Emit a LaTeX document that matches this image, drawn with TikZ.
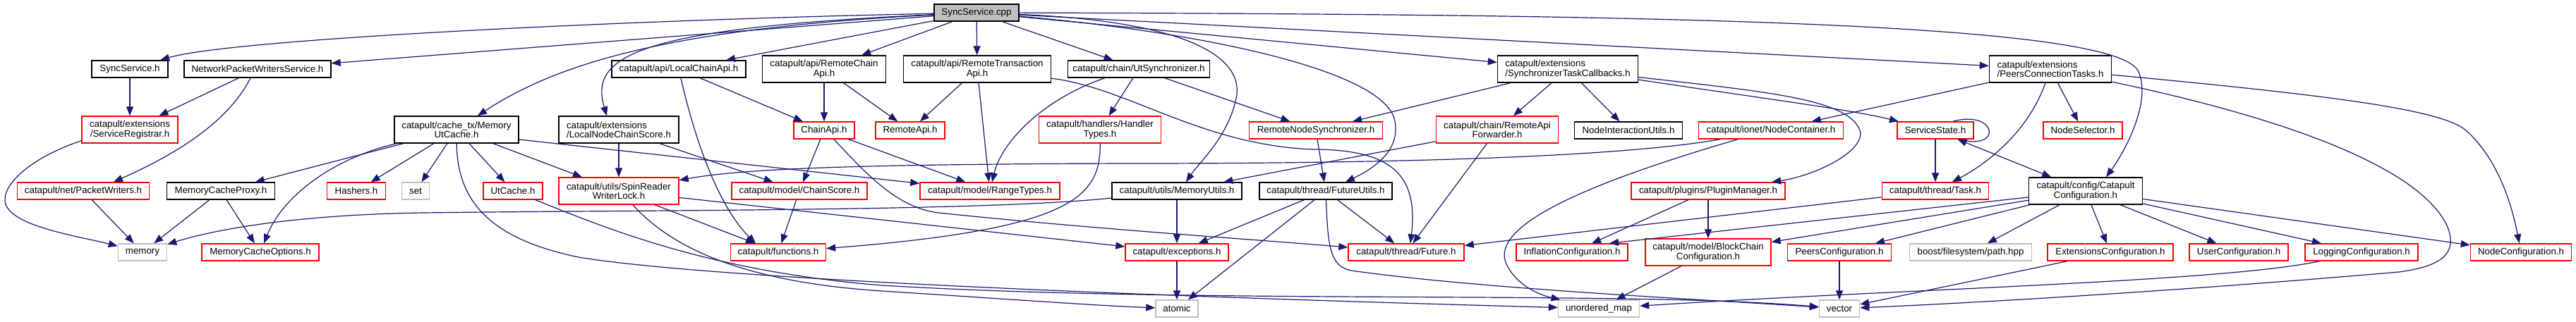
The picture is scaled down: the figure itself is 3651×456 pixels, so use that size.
\documentclass[tikz,border=0pt]{standalone}
\usepackage{fontspec}
\setmainfont{Liberation Sans}
\usetikzlibrary{arrows.meta}
\definecolor{edgeblue}{HTML}{191970}
\definecolor{greyb}{HTML}{BFBFBF}
\definecolor{boxred}{HTML}{FF0000}
\tikzset{
  nd/.style={rectangle, draw, fill=white, inner sep=0pt, line width=1.4pt,
    font=\fontsize{13.3pt}{12.3pt}\selectfont, align=center, minimum height=24pt},
  blk/.style={nd, draw=black},
  rd/.style={nd, draw=boxred},
  gy/.style={nd, draw=greyb},
  two/.style={minimum height=38pt},
  e/.style={draw=edgeblue, line width=1.2pt, -{Triangle[length=13pt,width=10pt]}},
  eboth/.style={draw=edgeblue, line width=1.2pt, {Triangle[length=13pt,width=10pt]}-{Triangle[length=13pt,width=10pt]}},
  eplain/.style={draw=edgeblue, line width=1.2pt}
}
\begin{document}
\begin{tikzpicture}[x=1pt,y=-1pt]
\path[fill=white, use as bounding box] (0,0) rectangle (3651,456);

% row 0
\node[blk, fill=greyb, minimum width=120pt] (sc) at (1384,18) {SyncService.cpp};
% row 1
\node[blk, minimum width=108pt] (ssh) at (184,98) {SyncService.h};
\node[blk, minimum width=208pt] (npw) at (365,98) {NetworkPacketWritersService.h};
\node[blk, minimum width=190pt] (lca) at (962,98) {catapult/api/LocalChainApi.h};
\node[blk, two, minimum width=175pt] (rca) at (1168,98) {catapult/api/RemoteChain\\Api.h};
\node[blk, two, minimum width=209pt] (rta) at (1385,98) {catapult/api/RemoteTransaction\\Api.h};
\node[blk, minimum width=201pt] (uts) at (1614,98) {catapult/chain/UtSynchronizer.h};
\node[blk, two, align=left, minimum width=199pt] (stc) at (2222,98) {catapult/extensions\\/SynchronizerTaskCallbacks.h};
\node[blk, two, align=left, minimum width=173pt] (pct) at (2906,98) {catapult/extensions\\/PeersConnectionTasks.h};
% row 2
\node[rd, two, minimum width=136pt] (sreg) at (184,184) {catapult/extensions\\/ServiceRegistrar.h};
\node[blk, two, minimum width=176pt] (mutc) at (647,184) {catapult/cache\_tx/Memory\\UtCache.h};
\node[blk, two, align=left, minimum width=170pt] (lncs) at (877,184) {catapult/extensions\\/LocalNodeChainScore.h};
\node[rd, minimum width=86pt] (capi) at (1168,185) {ChainApi.h};
\node[rd, minimum width=98pt] (rapi) at (1290,185) {RemoteApi.h};
\node[rd, two, minimum width=173pt] (ht) at (1559,184) {catapult/handlers/Handler\\Types.h};
\node[rd, minimum width=189pt] (rns) at (1865,185) {RemoteNodeSynchronizer.h};
\node[rd, two, minimum width=173pt] (raf) at (2122,184) {catapult/chain/RemoteApi\\Forwarder.h};
\node[blk, minimum width=153pt] (niu) at (2308,185) {NodeInteractionUtils.h};
\node[rd, minimum width=205pt] (nc) at (2510,185) {catapult/ionet/NodeContainer.h};
\node[rd, minimum width=108pt] (ss) at (2743,185) {ServiceState.h};
\node[rd, minimum width=112pt] (ns) at (2952,185) {NodeSelector.h};
% row 3
\node[rd, minimum width=187pt] (pw) at (118,271) {catapult/net/PacketWriters.h};
\node[blk, minimum width=153pt] (mcp) at (313,271) {MemoryCacheProxy.h};
\node[rd, minimum width=83pt] (hash) at (505,271) {Hashers.h};
\node[gy, minimum width=39pt] (set) at (589,271) {set};
\node[rd, minimum width=84pt] (utc) at (727,271) {UtCache.h};
\node[rd, two, minimum width=170pt] (srwl) at (877,271) {catapult/utils/SpinReader\\WriterLock.h};
\node[rd, minimum width=192pt] (cs) at (1133,271) {catapult/model/ChainScore.h};
\node[rd, minimum width=198pt] (rt) at (1403,271) {catapult/model/RangeTypes.h};
\node[blk, minimum width=184pt] (mu) at (1668,271) {catapult/utils/MemoryUtils.h};
\node[blk, minimum width=188pt] (fu) at (1879,271) {catapult/thread/FutureUtils.h};
\node[rd, minimum width=218pt] (pm) at (2421,271) {catapult/plugins/PluginManager.h};
\node[rd, minimum width=151pt] (task) at (2743,271) {catapult/thread/Task.h};
\node[blk, two, minimum width=161pt] (cc) at (2956,271) {catapult/config/Catapult\\Configuration.h};
% row 4
\node[gy, minimum width=69pt] (mem) at (202,358) {memory};
\node[rd, minimum width=166pt] (mco) at (369,358) {MemoryCacheOptions.h};
\node[rd, minimum width=135pt] (fn) at (1103,358) {catapult/functions.h};
\node[rd, minimum width=146pt] (exc) at (1668,358) {catapult/exceptions.h};
\node[rd, minimum width=164pt] (fut) at (1993,358) {catapult/thread/Future.h};
\node[rd, minimum width=158pt] (infl) at (2228,358) {InflationConfiguration.h};
\node[rd, two, minimum width=178pt] (bcc) at (2421,358) {catapult/model/BlockChain\\Configuration.h};
\node[rd, minimum width=147pt] (peers) at (2607,358) {PeersConfiguration.h};
\node[gy, minimum width=173pt] (bfs) at (2793,358) {boost/filesystem/path.hpp};
\node[rd, minimum width=178pt] (ext) at (2991,358) {ExtensionsConfiguration.h};
\node[rd, minimum width=140pt] (user) at (3173,358) {UserConfiguration.h};
\node[rd, minimum width=160pt] (log) at (3347,358) {LoggingConfiguration.h};
\node[rd, minimum width=143pt] (nodec) at (3573,358) {NodeConfiguration.h};
% row 5
\node[gy, minimum width=60pt] (atomic) at (1668,438) {atomic};
\node[gy, minimum width=115pt] (umap) at (2266,438) {unordered\_map};
\node[gy, minimum width=57pt] (vec) at (2607,438) {vector};

% edges from SyncService.cpp
\draw[e] (sc) .. controls (900,28) and (330,55) .. (ssh);
\draw[e] (sc) -- (npw);
\draw[e] (sc) .. controls (950,40) and (790,90) .. (mutc);
\draw[e] (sc) .. controls (900,40) and (835,80) .. ([xshift=-17pt]lncs.north);
\draw[e] (sc) -- (lca);
\draw[e] (sc) -- (rca);
\draw[e] (sc) -- (rta);
\draw[e] (sc) -- (uts);
\draw[e] (sc) -- (stc);
\draw[e] (sc) -- (pct);
\draw[e] (sc) .. controls (2300,20) and (2990,30) .. (3030,100) .. controls (3050,140) and (3015,210) .. ([xshift=29pt]cc.north);
\draw[e] (sc) .. controls (1680,30) and (1765,80) .. (1752,140) .. controls (1740,195) and (1700,230) .. ([xshift=13pt]mu.north);
\draw[e] (sc) .. controls (1700,45) and (1965,100) .. (1977,172) .. controls (1985,215) and (1945,240) .. ([xshift=28pt]fu.north);

% left part
\draw[e] (ssh) -- (sreg);
\draw[e] (npw) -- (sreg);
\draw[e] ([xshift=-10pt]npw.south) .. controls (320,180) and (235,225) .. ([xshift=43pt]pw.north);
\draw[e] ([yshift=4pt]sreg.south west) .. controls (40,225) and (0,265) .. (8,290) .. controls (20,322) and (110,335) .. (mem);
\draw[e] (pw) -- (mem);
\draw[e] (mcp) -- (mem);
\draw[e] (mcp) -- (mco);
\draw[e] (mutc) -- (mcp);
\draw[e] ([xshift=-85pt]mutc.south) .. controls (470,225) and (400,280) .. (mco);
\draw[e] (mutc) -- (hash);
\draw[e] (mutc) -- (set);
\draw[e] (mutc) -- (utc);
\draw[e] (mutc) -- (srwl);
\draw[e] ([yshift=-14pt]mutc.east) -- ([yshift=-2pt]rt.north west);
\draw[e] (mutc) .. controls (648,290) and (700,340) .. (820,365) .. controls (1000,395) and (1600,420) .. (umap);
\draw[e] (utc) .. controls (850,320) and (1000,385) .. (1250,405) .. controls (1700,432) and (2300,412) .. (vec);
\draw[e] (lncs) -- (srwl);
\draw[e] (lncs) -- (cs);

% middle part
\draw[e] (lca) -- (capi);
\draw[e] (lca) .. controls (990,220) and (1025,300) .. ([xshift=-32pt]fn.north);
\draw[e] (rca) -- (capi);
\draw[e] (rca) -- (rapi);
\draw[e] (rta) -- (rapi);
\draw[e] (rta) -- (rt);
\draw[e] (rta) .. controls (1600,125) and (1700,205) .. (1860,212) .. controls (1975,212) and (2010,250) .. ([xshift=6pt]fut.north);
\draw[e] ([xshift=-48pt]uts.south) .. controls (1480,140) and (1420,200) .. (rt);
\draw[e] (uts) -- (ht);
\draw[e] (uts) -- (rns);
\draw[e] (ht) .. controls (1560,280) and (1520,325) .. (fn);
\draw[e] (capi) -- (cs);
\draw[e] (capi) -- (rt);
\draw[e] ([xshift=14pt]capi.south) .. controls (1235,255) and (1275,295) .. (1330,302) .. controls (1550,325) and (1780,340) .. (fut);
\draw[e] (cs) -- (fn);
\draw[e] (srwl) -- (fn);
\draw[e] (srwl) -- (exc);
\draw[e] ([xshift=20pt]srwl.south) .. controls (950,350) and (1050,400) .. (1250,413) .. controls (1450,426) and (1560,434) .. (atomic);
\draw[e] (mu) -- (exc);
\draw[e] (mu) .. controls (1400,300) and (900,298) .. (600,302) .. controls (400,305) and (290,330) .. (mem);
\draw[e] (exc) -- (atomic);
\draw[e] (fu) -- (exc);
\draw[e] (fu) -- (atomic);
\draw[e] (fu) .. controls (1882,350) and (1885,378) .. (1915,384) .. controls (2100,410) and (2400,424) .. (vec);
\draw[e] (fu) -- (fut);
\draw[e] (rns) -- (fu);
\draw[e] (raf) -- (mu);
\draw[e] (raf) -- (fut);

% right part
\draw[e] (stc) -- (rns);
\draw[e] (stc) -- (raf);
\draw[e] (stc) -- (niu);
\draw[e] (stc) .. controls (2500,140) and (2620,155) .. (ss);
\draw[e] (stc) .. controls (2500,130) and (2620,140) .. (2636,185) .. controls (2645,215) and (2570,250) .. (pm);
\draw[e] (nc) .. controls (2300,222) and (2000,232) .. (1600,232) .. controls (1200,233) and (1050,240) .. (srwl);
\draw[e] ([xshift=-47pt]nc.south) .. controls (2250,260) and (2110,320) .. (2135,375) .. controls (2150,405) and (2180,418) .. (umap);
\draw[e] (pct) -- (nc);
\draw[e] (pct) .. controls (2875,185) and (2820,230) .. (task);
\draw[e] (pct) -- (ns);
\draw[e] (pct) .. controls (3300,135) and (3460,155) .. (3495,185) .. controls (3540,225) and (3560,290) .. (nodec);
\draw[e] (pct) .. controls (3250,170) and (3430,240) .. (3468,320) .. controls (3485,360) and (3460,378) .. (3400,386) .. controls (3100,412) and (2800,430) .. (vec);
\draw[eplain] ([xshift=-30pt]ss.north east) .. controls (2830,155) and (2840,215) .. ([xshift=-22pt]ss.south east);
\draw[e] (ss) -- (task);
\draw[eboth] (ss) -- (cc);
\draw[e] (task) -- (fut);
\draw[e] (cc) -- ([xshift=53pt]infl.north);
\draw[e] (cc) -- (bcc);
\draw[e] (cc) -- (peers);
\draw[e] (cc) -- (bfs);
\draw[e] (cc) -- (ext);
\draw[e] (cc) -- (user);
\draw[e] (cc) -- (log);
\draw[e] (cc) -- (nodec);
\draw[e] (pm) -- (infl);
\draw[e] (pm) -- (bcc);
\draw[e] (bcc) -- (umap);
\draw[e] (peers) -- (vec);
\draw[e] (ext) -- (vec);
\draw[e] (log) .. controls (3150,400) and (2700,410) .. (umap);
\end{tikzpicture}
\end{document}
